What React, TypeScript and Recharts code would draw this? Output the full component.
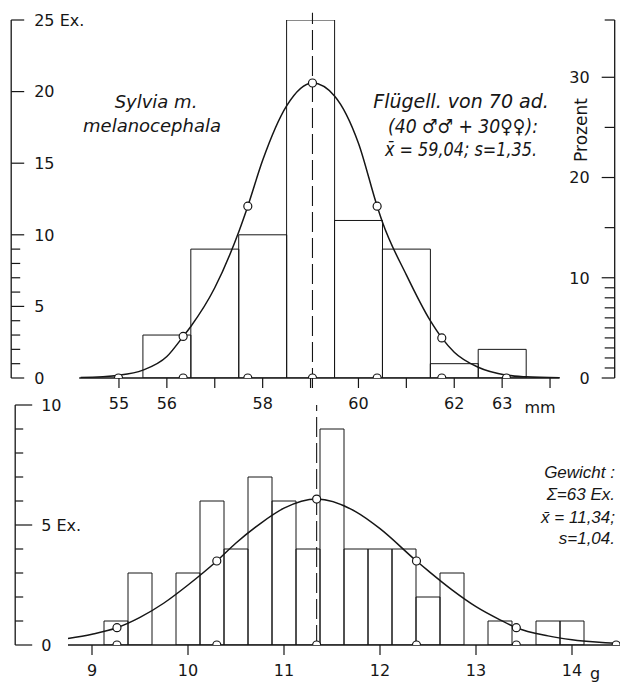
import { Bar, ComposedChart, Line, ReferenceLine, Scatter, XAxis, YAxis } from "recharts"

const INK = "#161616"
const FONT = "'DejaVu Sans', Verdana, sans-serif"
const NARROW = "'Liberation Sans', Arial, sans-serif"

// Flügellänge (mm), 1-mm classes
const wingBins = [56, 57, 58, 59, 60, 61, 62, 63]
const wingCounts = [3, 9, 10, 25, 11, 9, 1, 2]
const wingMean = 59.04
const wingCurveX = [54.2, 55, 55.5, 56, 56.34, 56.5, 57, 57.5, 57.69, 58, 58.5, 59.04, 59.5, 60, 60.39, 60.5, 61, 61.5, 61.74, 62, 62.5, 63.09, 63.5, 64.2]
const wingCurveY = [0.03, 0.2, 0.55, 1.5, 2.9, 3.6, 6.3, 10.2, 12.0, 15.2, 19.0, 20.6, 19.7, 16.4, 12.0, 10.9, 7.2, 4.0, 2.8, 1.8, 0.75, 0.2, 0.08, 0.01]
const wingRingX = [56.34, 57.69, 59.04, 60.39, 61.74]
const wingRingY = [2.9, 12.0, 20.6, 12.0, 2.8]
const wingBaseRingX = [54.99, 56.34, 57.69, 59.04, 60.39, 61.74, 63.09]
const wingTicks = [55, 56, 57, 58, 59, 60, 61, 62, 63, 64]
const wingTickLabels = [55, 56, 58, 60, 62, 63]
const exTicks = [0, 1, 2, 3, 4, 5, 6, 7, 8, 9, 10, 15, 20, 25]
const pctTicks = [0, 1, 2, 3, 4, 5, 6, 7, 8, 9, 10, 15, 20, 25, 30]

// Gewicht (g), 0.25-g classes
const weightBins = [9.25, 9.5, 9.75, 10, 10.25, 10.5, 10.75, 11, 11.25, 11.5, 11.75, 12, 12.25, 12.5, 12.75, 13, 13.25, 13.5, 13.75, 14]
const weightCounts = [1, 3, 0, 3, 6, 4, 7, 6, 4, 9, 4, 4, 4, 2, 3, 0, 1, 0, 1, 1]
const weightMean = 11.34
const weightCurveX = [8.75, 9, 9.26, 9.5, 9.75, 10, 10.3, 10.5, 10.75, 11, 11.34, 11.75, 12, 12.38, 12.5, 12.75, 13, 13.25, 13.42, 13.75, 14, 14.25, 14.46, 14.6]
const weightCurveY = [0.27, 0.45, 0.72, 1.15, 1.75, 2.5, 3.5, 4.25, 5.05, 5.7, 6.08, 5.55, 4.85, 3.5, 3.1, 2.3, 1.6, 1.05, 0.72, 0.38, 0.22, 0.12, 0.07, 0.05]
const weightRingX = [9.26, 10.3, 11.34, 12.38, 13.42]
const weightRingY = [0.72, 3.5, 6.08, 3.5, 0.72]
const weightBaseRingX = [9.26, 10.3, 11.34, 12.38, 13.42, 14.46]
const weightTicks = [9, 10, 11, 12, 13, 14]
const weightExTicks = [0, 1, 2, 3, 4, 5, 6, 7, 8, 9, 10]

const wingTable = wingBins.map((bin, i) => ({ bin, count: wingCounts[i] }))
const wingCurve = wingCurveX.map((x, i) => ({ x, y: wingCurveY[i] }))
const wingRings = wingRingX.map((x, i) => ({ x, y: wingRingY[i] }))
const wingBaseRings = wingBaseRingX.map((x) => ({ x, y: 0 }))
const weightTable = weightBins.map((bin, i) => ({ bin, count: weightCounts[i] }))
const weightCurve = weightCurveX.map((x, i) => ({ x, y: weightCurveY[i] }))
const weightRings = weightRingX.map((x, i) => ({ x, y: weightRingY[i] }))
const weightBaseRings = weightBaseRingX.map((x) => ({ x, y: 0 }))

const wingTotal = wingCounts.reduce((a, b) => a + b, 0)
const pctMax = (25 / wingTotal) * 100

// layout
const TOP = { width: 622, height: 420, left: 11.2, right: 7.3, top: 20, axisH: 42, lo: 52.75, hi: 65.35 }
const BOT = { width: 622, height: 300, left: 15.2, right: 2, top: 20, axisH: 40, lo: 8.2, hi: 14.5 }
const wingPx = (TOP.width - TOP.left - TOP.right) / (TOP.hi - TOP.lo)
const weightPx = (BOT.width - BOT.left - BOT.right) / (BOT.hi - BOT.lo)
const wingPad = {
  left: (wingBins[0] - 0.5 - TOP.lo) * wingPx,
  right: (TOP.hi - wingBins[wingBins.length - 1] - 0.5) * wingPx,
}
const weightPad = {
  left: (weightBins[0] - 0.125 - BOT.lo) * weightPx,
  right: (BOT.hi - weightBins[weightBins.length - 1] - 0.125) * weightPx,
}

function sideTick(labels: Record<number, string>, major: number, minor: number, gap: number, dir: 1 | -1) {
  return (props: any) => {
    const { x, y, payload } = props
    const text = labels[payload.value]
    return (
      <g>
        <line x1={x} y1={y} x2={x + dir * (text ? major : minor)} y2={y} stroke={INK} strokeWidth={1.2} />
        {text && (
          <text x={x + dir * gap} y={y} dy="0.36em" textAnchor={dir > 0 ? "start" : "end"} fontSize={16} fill={INK} fontFamily={FONT}>
            {text}
          </text>
        )}
      </g>
    )
  }
}

const ring = (p: any) => <circle cx={p.cx} cy={p.cy} r={4} fill="#fff" stroke={INK} strokeWidth={1.2} />

const axisTick = { fill: INK, fontSize: 16, fontFamily: FONT }
const note = { fill: INK, fontFamily: FONT, fontStyle: "italic" as const }
const noteNarrow = { fill: INK, fontFamily: NARROW, fontStyle: "italic" as const }
const squeeze = (w: number) => ({ textLength: w, lengthAdjust: "spacingAndGlyphs" })

export default function App() {
  return (
    <div style={{ position: "absolute", left: 0, top: 0, width: 622, height: 683, overflow: "hidden", background: "#fff" }}>
      <div style={{ position: "absolute", left: 0, top: 0 }}>
        <ComposedChart
          width={TOP.width}
          height={TOP.height}
          data={wingTable}
          margin={{ top: TOP.top, right: TOP.right, bottom: 0, left: TOP.left }}
          barCategoryGap={0}
          barGap={0}
        >
          <XAxis
            xAxisId="mm"
            dataKey="x"
            type="number"
            domain={[TOP.lo, TOP.hi]}
            allowDataOverflow
            ticks={wingTicks}
            interval={0}
            tickFormatter={(v: number) => (wingTickLabels.includes(v) ? String(v) : "")}
            axisLine={false}
            tickLine={{ stroke: INK, strokeWidth: 1.2 }}
            tickSize={10}
            tickMargin={10}
            height={TOP.axisH}
            tick={axisTick}
          />
          <XAxis xAxisId="bins" dataKey="bin" type="category" hide height={0} padding={wingPad} />
          <YAxis
            yAxisId="ex"
            type="number"
            domain={[0, 25]}
            allowDataOverflow
            ticks={exTicks}
            interval={0}
            mirror
            tickSize={0}
            tickMargin={0}
            tickLine={false}
            axisLine={{ stroke: INK, strokeWidth: 1.3 }}
            tick={sideTick({ 0: "0", 5: "5", 10: "10", 15: "15", 20: "20", 25: "25 Ex." }, 13, 9, 23, 1)}
          />
          <YAxis
            yAxisId="pct"
            orientation="right"
            type="number"
            domain={[0, pctMax]}
            allowDataOverflow
            ticks={[...pctTicks, pctMax]}
            interval={0}
            mirror
            tickSize={0}
            tickMargin={0}
            tickLine={false}
            axisLine={{ stroke: INK, strokeWidth: 1.3 }}
            tick={sideTick({ 0: "0", 10: "10", 20: "20", 30: "30" }, 13, 10, 25, -1)}
          />
          <Bar xAxisId="bins" yAxisId="ex" dataKey="count" fill="none" stroke={INK} strokeWidth={1} isAnimationActive={false} />
          <ReferenceLine
            xAxisId="mm"
            yAxisId="ex"
            segment={[{ x: 54.17, y: 0 }, { x: 64.2, y: 0 }]}
            stroke={INK}
            strokeWidth={1.3}
          />
          <ReferenceLine
            xAxisId="mm"
            yAxisId="ex"
            segment={[{ x: wingMean, y: -0.7 }, { x: wingMean, y: 25.5 }]}
            ifOverflow="visible"
            stroke={INK}
            strokeWidth={1.1}
            strokeDasharray="20 6"
          />
          <Line xAxisId="mm" yAxisId="ex" data={wingCurve} dataKey="y" type="monotone" dot={false} stroke={INK} strokeWidth={1.5} isAnimationActive={false} />
          <Scatter xAxisId="mm" yAxisId="pct" data={wingBaseRings} dataKey="y" shape={ring} isAnimationActive={false} />
          <Scatter xAxisId="mm" yAxisId="ex" data={wingRings} dataKey="y" shape={ring} isAnimationActive={false} />
          <text x={156} y={108} textAnchor="middle" fontSize={18} {...note}>Sylvia m.</text>
          <text x={152} y={132} textAnchor="middle" fontSize={18} {...note}>melanocephala</text>
          <text x={461} y={108} textAnchor="middle" fontSize={19} {...note}>Flügell. von 70 ad.</text>
          <text x={463} y={133} textAnchor="middle" fontSize={19} {...note} {...squeeze(150)}>(40 ♂♂ + 30♀♀):</text>
          <text x={461} y={156} textAnchor="middle" fontSize={19} {...note} {...squeeze(152)}>x̄ = 59,04; s=1,35.</text>
          <text x={587} y={130} transform="rotate(-90 587 130)" textAnchor="middle" fontSize={17} fill={INK} fontFamily={FONT}>Prozent</text>
          <text x={540} y={413} textAnchor="middle" fontSize={16} fill={INK} fontFamily={FONT}>mm</text>
        </ComposedChart>
      </div>
      <div style={{ position: "absolute", left: 0, top: 385 }}>
        <ComposedChart
          width={BOT.width}
          height={BOT.height}
          data={weightTable}
          margin={{ top: BOT.top, right: BOT.right, bottom: 0, left: BOT.left }}
          barCategoryGap={0}
          barGap={0}
        >
          <XAxis
            xAxisId="g"
            dataKey="x"
            type="number"
            domain={[BOT.lo, BOT.hi]}
            allowDataOverflow
            ticks={weightTicks}
            interval={0}
            axisLine={false}
            tickLine={{ stroke: INK, strokeWidth: 1.2 }}
            tickSize={10}
            tickMargin={10}
            height={BOT.axisH}
            tick={axisTick}
          />
          <XAxis xAxisId="bins" dataKey="bin" type="category" hide height={0} padding={weightPad} />
          <YAxis
            yAxisId="ex"
            type="number"
            domain={[0, 10]}
            allowDataOverflow
            ticks={weightExTicks}
            interval={0}
            mirror
            tickSize={0}
            tickMargin={0}
            tickLine={false}
            axisLine={{ stroke: INK, strokeWidth: 1.3 }}
            tick={sideTick({ 0: "0", 5: "5 Ex.", 10: "10" }, 17, 8, 26, 1)}
          />
          <Bar xAxisId="bins" yAxisId="ex" dataKey="count" fill="none" stroke={INK} strokeWidth={1} isAnimationActive={false} />
          <ReferenceLine
            xAxisId="g"
            yAxisId="ex"
            segment={[{ x: 8.75, y: 0 }, { x: 14.5, y: 0 }]}
            stroke={INK}
            strokeWidth={1.3}
          />
          <ReferenceLine xAxisId="g" yAxisId="ex" x={weightMean} stroke={INK} strokeWidth={1.1} strokeDasharray="20 6" />
          <Line xAxisId="g" yAxisId="ex" data={weightCurve} dataKey="y" type="monotone" dot={false} stroke={INK} strokeWidth={1.5} isAnimationActive={false} />
          <Scatter xAxisId="g" yAxisId="ex" data={weightBaseRings} dataKey="y" shape={ring} isAnimationActive={false} />
          <Scatter xAxisId="g" yAxisId="ex" data={weightRings} dataKey="y" shape={ring} isAnimationActive={false} />
          <text x={615} y={93} textAnchor="end" fontSize={17} {...noteNarrow}>Gewicht :</text>
          <text x={615} y={115} textAnchor="end" fontSize={17} {...noteNarrow}>Σ=63 Ex.</text>
          <text x={615} y={138} textAnchor="end" fontSize={17} {...noteNarrow}>x̄ = 11,34;</text>
          <text x={615} y={159} textAnchor="end" fontSize={17} {...noteNarrow}>s=1,04.</text>
          <text x={595} y={294} textAnchor="middle" fontSize={16} fill={INK} fontFamily={FONT}>g</text>
        </ComposedChart>
      </div>
    </div>
  )
}
